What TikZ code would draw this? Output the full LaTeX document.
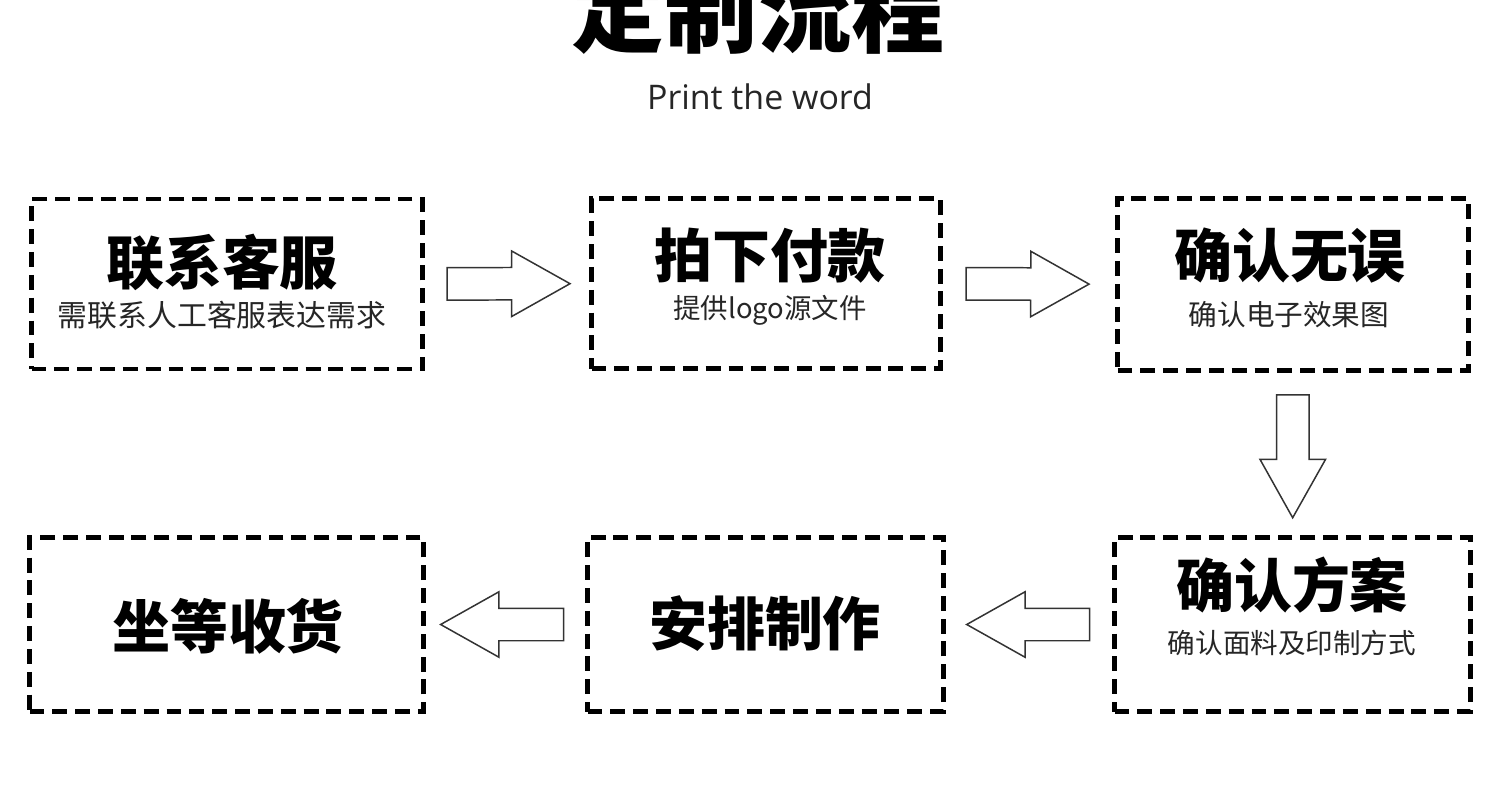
\documentclass[tikz,border=0pt]{standalone}
\usepackage{fontspec}
\usepackage{tikz}
\usetikzlibrary{shapes.arrows}
\newfontfamily\cjk{Noto Sans CJK SC}
\newfontfamily\latinfont{Open Sans}
\tikzstyle{stepbox}=[draw,rectangle,line width=2.8pt,dash pattern=on 8.5pt off 4.5pt,inner sep=0pt]
\tikzstyle{blockarrow}=[draw=black!80,line width=0.85pt,single arrow,inner xsep=0pt,inner ysep=0.31cm,minimum width=1.28cm,minimum height=2.46cm,single arrow head extend=0.33cm,single arrow tip angle=58.6,sloped,allow upside down,anchor=tail,pos=0.13]
\tikzstyle{heading}=[font=\cjk\bfseries\fontsize{33}{36}\selectfont,inner sep=0pt]
\tikzstyle{subtext}=[text=black!85,inner sep=0pt]

\begin{document}
\begin{tikzpicture}[x=0.02cm,y=-0.02cm]
    \useasboundingbox[fill=white] (0,0) rectangle (1500,784);
    % Title and subtitle
    \node[font=\cjk\bfseries\fontsize{53}{60}\selectfont,inner sep=0pt] (title) at (758,10) {定制流程};
    \node[font=\latinfont\fontsize{19.3}{24}\selectfont,text=black!85,inner sep=0pt] (subtitle) at (760,97) {Print the word};

    % First we draw the dashed boxes
    \foreach \pos/\name/\w/\h in {{(227,284)/lianxi/391/170}, {(766,283.5)/paixia/349/170}, {(1293,284.5)/queren/351/172}, {(1292.5,624.5)/fangan/356/174}, {(765.5,624.5)/zhizuo/356/174}, {(226.5,624.5)/shouhuo/394/174}}
        \node[stepbox,minimum width=\w*0.02cm,minimum height=\h*0.02cm] (\name) at \pos {};

    % Then the headings and the small lines
    \foreach \pos/\name/\txt in {{(222,262)/lianxi-t/联系客服}, {(770,256)/paixia-t/拍下付款}, {(1290,256)/queren-t/确认无误}, {(1292,585)/fangan-t/确认方案}, {(765,624)/zhizuo-t/安排制作}, {(228,626)/shouhuo-t/坐等收货}}
        \node[heading] (\name) at \pos {\txt};
    \foreach \pos/\name/\size/\txt in {{(222,315)/lianxi-s/17/需联系人工客服表达需求}, {(770,310)/paixia-s/15.6/提供logo源文件}, {(1289,315)/queren-s/16.3/确认电子效果图}, {(1292,643)/fangan-s/15.7/确认面料及印制方式}}
        \node[subtext,font=\cjk\fontsize{\size}{\size}\selectfont] (\name) at \pos {\txt};

    % Connect boxes with block arrows
    \foreach \source/\dest in {lianxi/paixia, paixia/queren, queren/fangan, fangan/zhizuo, zhizuo/shouhuo}
        \path (\source) -- node[blockarrow] {} (\dest);
\end{tikzpicture}
\end{document}
